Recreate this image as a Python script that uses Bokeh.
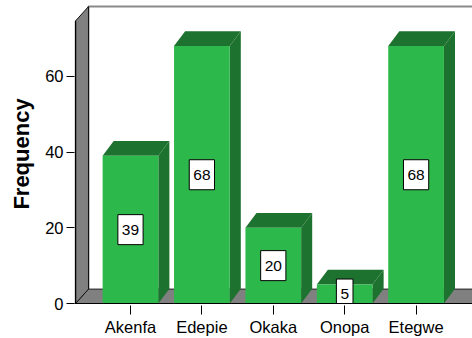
from bokeh.plotting import figure
from bokeh.models import Range1d, FixedTicker, ColumnDataSource
from bokeh.embed import file_html
from bokeh.resources import INLINE
from bokeh.core.properties import value

# Data
sites = ["Akenfa", "Edepie", "Okaka", "Onopa", "Etegwe"]
frequency = [39, 68, 20, 5, 68]
y_ticks = [0, 20, 40, 60]

# Styling constants
FRONT = "#2db84b"
DARK = "#1e722f"
WALL = "#808080"
FONT = "Liberation Sans"

BAR_W = 0.78            # bar width as a share of one category slot
BAR_DX, BAR_DY = 0.155, 3.9    # depth of the bars (x in slots, y in counts)
WALL_DX, WALL_DY = 0.182, 3.8  # depth of the floor and side wall

X0, X1 = -0.784, 4.79   # visible x span
Y0, Y1 = 0, 78.95       # visible y span
SPINE_X = -0.77         # front edge of the side wall (value axis)
WALL_TOP = 78.4         # top of the back wall

p = figure(width=472, height=338, output_backend="svg", toolbar_location=None,
           x_range=Range1d(X0, X1), y_range=Range1d(Y0, Y1),
           min_border_left=74, min_border_right=0, min_border_top=4,
           min_border_bottom=34)
p.outline_line_color = None
p.xgrid.visible = False
p.ygrid.visible = False
p.background_fill_color = "white"
p.border_fill_color = "white"

far_x = X1 + 1

# back wall edges
p.line(x=[SPINE_X + WALL_DX, SPINE_X + WALL_DX, far_x], y=[WALL_DY, WALL_TOP, WALL_TOP],
       line_color="#8a8a8a", line_width=2)

# floor
p.patch(x=[SPINE_X, SPINE_X + WALL_DX, far_x, far_x], y=[0, WALL_DY, WALL_DY, 0],
        fill_color=WALL, line_color="#222222", line_width=1)

# left side wall
p.patch(x=[SPINE_X, SPINE_X, SPINE_X + WALL_DX, SPINE_X + WALL_DX],
        y=[0, WALL_TOP - WALL_DY, WALL_TOP, WALL_DY],
        fill_color=WALL, line_color="#111111", line_width=1)
p.line(x=[SPINE_X, SPINE_X], y=[0, WALL_TOP - WALL_DY], line_color="black", line_width=1.5)

# 3-D bars
idx = list(range(len(sites)))
half = BAR_W / 2
side_xs, side_ys, top_xs, top_ys = [], [], [], []
for i, v in zip(idx, frequency):
    side_xs.append([i + half, i + half + BAR_DX, i + half + BAR_DX, i + half])
    side_ys.append([0, BAR_DY, v + BAR_DY, v])
    top_xs.append([i - half, i - half + BAR_DX, i + half + BAR_DX, i + half])
    top_ys.append([v, v + BAR_DY, v + BAR_DY, v])

p.patches(xs=side_xs, ys=side_ys, fill_color=DARK, line_color=None)
p.patches(xs=top_xs, ys=top_ys, fill_color=DARK, line_color=None)
p.vbar(x=idx, top=frequency, bottom=0, width=BAR_W, fill_color=FRONT, line_color=None)

# value labels in boxes at half height
lab = ColumnDataSource(dict(x=idx, y=[v / 2 for v in frequency],
                            t=[str(v) for v in frequency]))
p.text(x="x", y="y", text="t", source=lab, text_align="center", text_baseline="middle",
       text_font=value(FONT), text_font_size="15.5px", text_color="black",
       background_fill_color="white", border_line_color="black", border_line_width=1,
       padding=dict(left=4, right=4, top=10, bottom=10))

# axes
xa = p.xaxis[0]
xa.ticker = FixedTicker(ticks=idx)
xa.major_label_overrides = {i: s for i, s in zip(idx, sites)}
xa.minor_tick_line_color = None
xa.major_tick_in = -2
xa.major_tick_out = 11
xa.major_label_standoff = 3
xa.axis_line_color = "black"
xa.major_tick_line_color = "black"
xa.major_label_text_font = FONT
xa.major_label_text_font_size = "16.5px"
xa.major_label_text_color = "black"

ya = p.yaxis[0]
ya.ticker = FixedTicker(ticks=y_ticks)
ya.minor_tick_line_color = None
ya.axis_line_color = None
ya.major_tick_line_color = "black"
ya.major_tick_in = 0
ya.major_tick_out = 8
ya.major_label_standoff = 3
ya.major_label_text_font = FONT
ya.major_label_text_font_size = "16.5px"
ya.major_label_text_color = "black"
ya.axis_label = "Frequency"
ya.axis_label_text_font = FONT
ya.axis_label_text_font_style = "bold"
ya.axis_label_text_font_size = "22px"
ya.axis_label_text_color = "black"
ya.axis_label_standoff = 8

open("out.html", "w").write(file_html(p, INLINE))
